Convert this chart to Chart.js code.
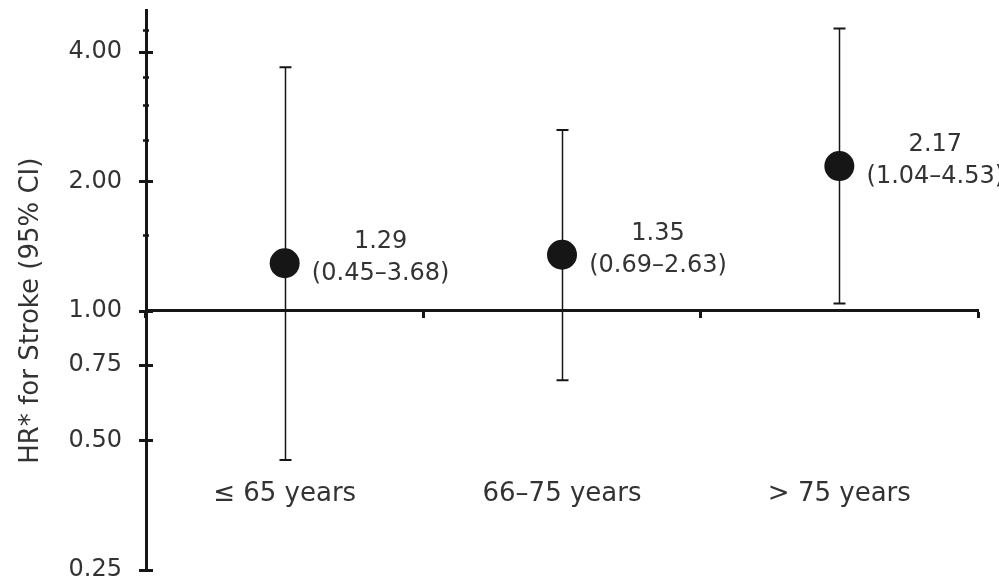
<!DOCTYPE html>
<html>
<head>
<meta charset="utf-8">
<script src="https://cdn.jsdelivr.net/npm/chart.js@4.4.1/dist/chart.umd.min.js"></script>
<style>
  html, body { margin: 0; padding: 0; background: #ffffff; }
  #wrap { width: 999px; height: 581px; }
</style>
</head>
<body>
<div id="wrap"><canvas id="chart" width="999" height="581"></canvas></div>
<script>
// Hazard ratio for stroke by age group, with 95% confidence intervals
const categories = ['≤ 65 years', '66–75 years', '> 75 years'];
const hazardRatio = [1.29, 1.35, 2.17];
const ciLower = [0.45, 0.69, 1.04];
const ciUpper = [3.68, 2.63, 4.53];

// y-axis tick positions: labelled ones and small unlabelled marks
const majorTicks = [0.25, 0.5, 0.75, 1, 2, 4];
const minorTicks = [1.5, 2.5, 3, 3.5, 4.5];

const INK = '#161616';
const TEXT = '#333333';
const FONT = 'DejaVu Sans';

// Confidence-interval whiskers with end caps
const errorBars = {
  id: 'errorBars',
  beforeDatasetsDraw(chart) {
    const y = chart.scales.y;
    const meta = chart.getDatasetMeta(0);
    const ctx = chart.ctx;
    ctx.save();
    ctx.strokeStyle = INK;
    meta.data.forEach((pt, i) => {
      const x = Math.round(pt.x) + 0.5;
      const yLo = y.getPixelForValue(ciLower[i]);
      const yHi = y.getPixelForValue(ciUpper[i]);
      ctx.lineWidth = 1.5;
      ctx.beginPath();
      ctx.moveTo(x, yHi);
      ctx.lineTo(x, yLo);
      ctx.stroke();
      ctx.lineWidth = 2;
      ctx.beginPath();
      ctx.moveTo(x - 6, yHi); ctx.lineTo(x + 6, yHi);
      ctx.moveTo(x - 6, yLo); ctx.lineTo(x + 6, yLo);
      ctx.stroke();
    });
    ctx.restore();
  }
};

// Tick marks on the y axis, crossing the axis line
const yTickMarks = {
  id: 'yTickMarks',
  afterDraw(chart) {
    const y = chart.scales.y;
    const ctx = chart.ctx;
    const ax = chart.chartArea.left;
    ctx.save();
    ctx.strokeStyle = INK;
    y.ticks.forEach(t => {
      const py = Math.round(y.getPixelForValue(t.value)) + 0.5;
      const major = majorTicks.includes(t.value);
      ctx.lineWidth = major ? 3 : 2.5;
      const half = major ? 7 : 3;
      ctx.beginPath();
      ctx.moveTo(ax - half, py);
      ctx.lineTo(ax + half, py);
      ctx.stroke();
    });
    ctx.restore();
  }
};

// Estimate and interval printed beside each point
const pointLabels = {
  id: 'pointLabels',
  afterDatasetsDraw(chart) {
    const meta = chart.getDatasetMeta(0);
    const ctx = chart.ctx;
    ctx.save();
    ctx.fillStyle = TEXT;
    ctx.font = '24px "' + FONT + '"';
    ctx.textAlign = 'center';
    ctx.textBaseline = 'middle';
    meta.data.forEach((pt, i) => {
      const cx = pt.x + 96;
      ctx.fillText(hazardRatio[i].toFixed(2), cx, pt.y - 21);
      ctx.fillText('(' + ciLower[i].toFixed(2) + '–' + ciUpper[i].toFixed(2) + ')', cx, pt.y + 11);
    });
    ctx.restore();
  }
};

new Chart(document.getElementById('chart'), {
  type: 'line',
  data: {
    labels: categories,
    datasets: [{
      data: hazardRatio,
      showLine: false,
      pointRadius: 15,
      pointHoverRadius: 15,
      pointBackgroundColor: INK,
      pointBorderColor: INK,
      pointBorderWidth: 0
    }]
  },
  options: {
    responsive: false,
    animation: false,
    events: [],
    layout: { autoPadding: false, padding: { top: 10, right: 21, bottom: 11, left: 0 } },
    plugins: {
      legend: { display: false },
      tooltip: { enabled: false }
    },
    scales: {
      x: {
        type: 'category',
        position: { y: 1 },
        offset: true,
        afterFit(scale) {
          scale.height = 0;
          scale.paddingLeft = 0; scale.paddingRight = 0;
          scale.paddingTop = 0; scale.paddingBottom = 0;
        },
        border: { display: true, color: INK, width: 3 },
        grid: {
          display: true,
          offset: true,
          drawOnChartArea: false,
          drawTicks: true,
          tickLength: 6,
          tickWidth: 3,
          tickColor: INK,
          color: INK
        },
        ticks: {
          padding: 162,
          color: TEXT,
          font: { family: FONT, size: 26 },
          maxRotation: 0
        }
      },
      y: {
        type: 'logarithmic',
        min: 0.25,
        max: 5,
        afterFit(scale) {
          scale.width = 146;
          scale.paddingLeft = 0; scale.paddingRight = 0;
          scale.paddingTop = 0; scale.paddingBottom = 0;
        },
        afterBuildTicks(scale) {
          scale.ticks = majorTicks.concat(minorTicks).sort((a, b) => a - b).map(v => ({ value: v }));
        },
        border: { display: true, color: INK, width: 3 },
        grid: { display: false, drawTicks: false },
        ticks: {
          padding: 24,
          color: TEXT,
          font: { family: FONT, size: 24 },
          autoSkip: false,
          callback: (v) => majorTicks.includes(v) ? v.toFixed(2) : ''
        },
        title: {
          display: true,
          // trailing spaces nudge the rotated title a little lower along the axis
          text: 'HR* for Stroke (95% CI)\u00a0\u00a0\u00a0\u00a0\u00a0',
          color: TEXT,
          font: { family: FONT, size: 26 },
          padding: { top: 16, bottom: 0 }
        }
      }
    }
  },
  plugins: [errorBars, yTickMarks, pointLabels]
});
</script>
</body>
</html>
